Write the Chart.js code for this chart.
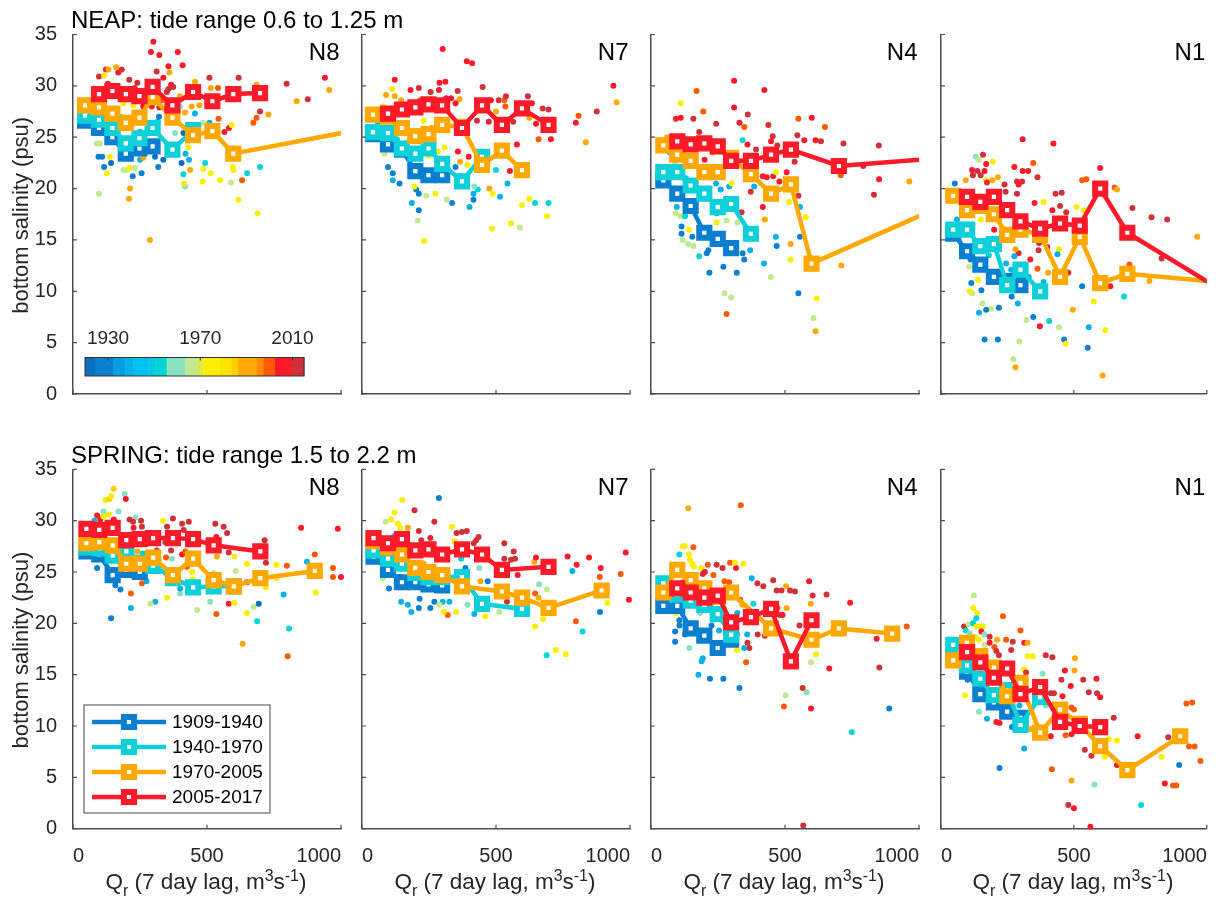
<!DOCTYPE html>
<html>
<head>
<meta charset="utf-8">
<script src="https://cdn.jsdelivr.net/npm/chart.js@4.4.1/dist/chart.umd.min.js"></script>
<style>
  html, body { margin: 0; padding: 0; background: #fff; }
  #fig { position: relative; width: 1220px; height: 902px; overflow: hidden; }
  #fig canvas { position: absolute; left: 0; }
</style>
</head>
<body>
<div id="fig"></div>
<script>
// salinity vs river flow, neap (top) and spring (bottom) tides, four stations

const stations = ['N8', 'N7', 'N4', 'N1'];
const rowTitles = ['NEAP: tide range 0.6 to 1.25 m', 'SPRING: tide range 1.5 to 2.2 m'];
const qTicks = [0, 500, 1000];
const sMin = 0, sMax = 35, sStep = 5;

const periodLabels = ['1909-1940', '1940-1970', '1970-2005', '2005-2017'];
const periodColors = ['#0a7fcf', '#0ed0d8', '#ffa800', '#ff1a2a'];

// colour scale of the sample year
const cbarYears = [1920, 1924.3, 1932.3, 1937.4, 1941, 1947.5, 1950.4, 1955.4, 1963.4, 1968.4, 1971.3, 1978.6, 1983.6, 1986.5, 1994.5, 1997.4, 2002.4, 2009.6, 2015];
const cbarColors = ['#0b6fbb', '#0a80d0', '#08a0e0', '#08b0ea', '#00c0f2', '#0ac8e4', '#00d4d4', '#88e2c2', '#c2e890', '#dae858', '#fcee00', '#ffe000', '#ffcf00', '#ffa800', '#ff8c00', '#ff5a00', '#ff1a2a', '#d03038'];
const cbarTicks = [1930, 1970, 2010];

// binned means [Q, S] per period: 1909-1940, 1940-1970, 1970-2005, 2005-2017
const meanNeapN8 = [
  [[45,26.6],[97,25.9],[147,25.0],[197,23.4],[248,23.9],[297,24.1]],
  [[45,27.1],[97,26.7],[147,25.9],[197,24.4],[248,24.9],[297,25.9],[371,23.8],[448,25.7]],
  [[45,28.1],[97,27.9],[147,27.3],[197,26.4],[248,26.9],[297,28.9],[371,26.9],[448,25.2],[520,25.6],[598,23.4],[1100,25.9]],
  [[97,29.2],[147,29.5],[197,29.2],[248,29.0],[297,29.9],[371,28.1],[448,29.4],[520,28.5],[598,29.2],[698,29.3]]
];
const meanNeapN7 = [
  [[41,25.3],[97,24.3],[149,23.8],[199,21.7],[248,21.3],[299,21.3]],
  [[41,25.5],[97,25.4],[149,23.9],[199,23.4],[248,23.9],[299,22.4],[373,20.7],[448,23.1]],
  [[41,27.2],[97,27.0],[149,25.9],[199,25.1],[248,25.3],[299,26.2],[373,26.0],[448,22.3],[522,23.7],[597,21.8]],
  [[97,27.3],[149,27.7],[199,27.9],[248,28.2],[299,28.1],[373,25.9],[448,28.1],[522,26.2],[597,27.8],[696,26.2]]
];
const meanNeapN4 = [
  [[46,20.8],[98,19.5],[148,18.3],[199,15.7],[249,15.1],[299,14.2]],
  [[46,21.6],[98,21.6],[148,20.3],[199,19.5],[249,18.2],[299,18.5],[373,15.6]],
  [[46,24.2],[98,23.3],[148,22.7],[199,21.6],[249,21.6],[299,23.0],[373,21.4],[448,19.5],[522,20.4],[599,12.7],[1100,18.45]],
  [[98,24.6],[148,24.3],[199,24.4],[249,24.1],[299,22.7],[373,22.7],[448,23.3],[522,23.8],[701,22.2],[1100,23.0]]
];
const meanNeapN1 = [
  [[46,15.6],[98,13.9],[148,12.6],[199,11.4],[249,11.0],[299,10.6]],
  [[46,16.0],[98,16.0],[148,14.4],[199,14.6],[249,10.6],[299,12.1],[373,10.0]],
  [[46,19.3],[98,17.9],[148,18.3],[199,17.5],[249,15.5],[299,16.0],[373,15.5],[448,11.4],[522,15.3],[599,10.8],[701,11.7],[1150,10.65]],
  [[98,19.2],[148,18.7],[199,19.2],[249,17.9],[299,16.8],[373,16.1],[448,16.6],[522,16.4],[599,20.0],[701,15.7],[1150,8.6]]
];
const meanSpringN8 = [
  [[50,27.0],[98,26.7],[148,24.7],[199,25.2],[249,25.0]],
  [[50,27.4],[98,27.3],[148,26.6],[199,27.0],[249,25.9],[299,25.6],[373,24.4],[448,23.5],[525,23.6],[600,23.6]],
  [[50,27.8],[98,27.9],[148,27.6],[199,25.8],[249,25.8],[299,26.4],[373,24.7],[448,26.3],[525,24.2],[600,23.6],[699,24.4],[902,25.1]],
  [[50,29.2],[98,29.1],[148,29.3],[199,28.1],[249,28.2],[299,28.3],[373,28.3],[448,28.2],[525,27.6],[699,27.0]]
];
const meanSpringN7 = [
  [[43,26.5],[97,25.2],[149,24.0],[199,24.0],[248,23.8],[299,23.7]],
  [[43,27.1],[97,26.3],[149,25.8],[199,24.9],[248,24.5],[299,24.5],[373,24.5],[448,21.9],[597,21.4]],
  [[43,28.0],[97,27.4],[149,26.7],[199,25.4],[248,25.0],[299,24.7],[373,23.6],[522,23.1],[597,22.5],[696,21.5],[894,23.2]],
  [[43,28.3],[97,27.8],[149,28.2],[199,27.1],[248,27.2],[299,26.7],[373,27.2],[448,26.7],[522,25.2],[696,25.5]]
];
const meanSpringN4 = [
  [[46,21.7],[98,21.7],[148,19.5],[199,18.8],[249,17.6],[299,18.4]],
  [[46,23.9],[98,22.8],[148,22.2],[199,21.8],[249,20.9],[299,18.9]],
  [[46,23.0],[98,25.2],[148,24.2],[199,23.4],[249,22.6],[299,23.0],[448,19.5],[599,18.4],[701,19.5],[900,19.0]],
  [[98,23.4],[148,23.0],[199,22.5],[249,22.7],[299,20.1],[373,20.6],[448,21.4],[522,16.3],[599,20.3]]
];
const meanSpringN1 = [
  [[46,16.6],[98,15.3],[148,13.1],[199,12.3],[249,11.4],[299,10.8]],
  [[46,17.9],[98,15.9],[148,14.6],[199,13.0],[249,13.5],[299,10.1],[373,12.8]],
  [[46,16.4],[98,18.1],[148,16.8],[199,15.7],[249,12.9],[299,14.2],[373,9.35],[448,11.6],[522,10.2],[599,8.05],[701,5.7],[900,9.0]],
  [[98,17.2],[148,16.2],[199,14.7],[249,15.6],[299,13.1],[373,13.8],[448,10.4],[522,10.0],[599,9.9]]
];

// individual samples [Q, S, year]
const dotsNeapN8 = [
  [300,34.3,2006],[291,33.3,2006],[322,33.0,2006],[391,33.3,2006],[409,32.0,2006],[356,31.9,2006],[312,31.4,2013],[169,31.3,2006],[182,31.6,2013],[123,31.6,2006],
  [161,31.8,1990],[97,30.9,2013],[210,30.6,2013],[240,30.3,2013],[337,30.8,2006],[360,31.3,1990],[366,30.1,2006],[455,30.4,1990],[509,30.8,2013],[618,30.8,2013],
  [685,30.1,1990],[514,29.8,1990],[541,29.8,2000],[797,30.2,2013],[940,30.8,2006],[956,29.6,1990],[835,28.5,1990],[876,28.7,2013],[673,26.4,2000],[685,26.9,2000],
  [698,27.5,2013],[729,27.2,1990],[582,25.9,2006],[565,25.5,2006],[543,26.8,2000],[471,28.1,1990],[443,28.0,1990],[455,27.3,1939],[418,27.4,1990],[399,28.0,1960],
  [485,26.4,1966],[509,26.4,1939],[592,26.2,1975],[430,26.2,1953],[412,25.4,1922],[381,25.4,1960],[430,24.0,1975],[420,23.4,1939],[433,22.8,1939],[405,22.5,1922],
  [337,22.8,1922],[318,22.1,1930],[412,21.4,1953],[437,21.8,1990],[418,20.2,1960],[415,20.5,1975],[493,22.5,1953],[486,21.9,1975],[484,20.7,1975],[514,21.5,1975],
  [549,20.8,1975],[589,20.6,1966],[596,22.1,1975],[598,21.8,1975],[631,20.8,2000],[650,21.5,1953],[698,22.1,1953],[617,18.9,1975],[689,17.6,1975],[287,15.0,1990],
  [213,20.0,1990],[209,19.0,1990],[97,19.5,1966],[95,23.1,1930],[109,23.1,1930],[142,22.5,1922],[116,22.1,1930],[126,21.5,1975],[88,24.4,1966],[100,24.4,1966],
  [138,23.1,1975],[188,21.8,1966],[200,21.8,1966],[210,22.0,1975],[223,21.2,1930],[231,22.0,1966],[256,21.5,1930],[250,22.8,1939],[262,23.0,1990],[215,23.1,1953],
  [306,23.1,1922],[316,26.5,1939],[321,27.0,1930],[132,31.6,1990],[116,31.0,1975],[107,28.6,1990],[138,29.0,1990],[188,28.3,1975],[225,28.1,1975],[262,28.0,2006],
  [294,28.0,2006],[322,27.9,2013],[331,28.6,2000],[350,29.4,2006],[356,29.7,2013],[312,30.3,1990],[374,29.9,2013],[399,29.0,1990],[70,27.5,1922],[75,28.5,1975],
  [130,30.2,2006],[160,30.0,1990],[230,29.8,2006],[270,29.5,2013],[180,27.0,1960],[120,26.0,1939],[160,24.5,1953],[250,25.5,1939]
];
const dotsNeapN7 = [
  [301,33.6,2006],[391,32.4,2006],[411,32.2,2006],[122,30.6,2006],[289,30.3,2006],[311,30.4,2006],[212,29.8,2013],[256,29.4,2013],[287,29.6,2006],[357,29.5,2013],
  [450,29.9,2013],[181,29.6,2006],[113,29.7,1975],[90,29.1,1990],[122,29.0,1990],[146,28.6,1990],[217,28.6,2000],[314,28.8,2013],[332,28.8,2006],[364,28.7,1990],
  [349,28.3,2006],[481,28.6,2006],[510,28.6,2013],[531,28.6,2000],[537,29.0,2013],[500,27.5,1990],[535,28.0,2000],[619,29.0,2013],[634,28.3,2006],[674,27.8,2013],
  [696,27.7,2013],[624,26.9,1990],[649,26.3,2006],[705,24.8,2006],[659,24.8,2000],[564,26.5,2013],[473,26.5,2006],[429,26.6,2013],[578,24.3,2006],[552,21.7,2006],
  [500,21.8,1953],[543,20.5,1939],[515,19.2,1939],[488,19.5,1975],[475,20.0,1990],[432,19.9,1953],[416,19.5,1939],[416,18.9,1930],[401,18.2,1939],[419,20.2,1960],
  [336,18.6,1930],[316,18.9,1966],[274,19.5,1975],[239,19.3,1966],[212,19.5,1930],[202,19.9,1930],[186,18.6,1939],[212,17.9,1930],[208,16.9,1966],[231,14.9,1975],
  [140,20.5,1930],[115,20.8,1939],[115,21.5,1930],[97,22.1,1930],[84,23.4,1966],[196,20.2,1975],[308,24.0,1975],[283,23.6,1975],[249,23.2,1975],[349,22.1,1930],
  [366,22.6,1990],[394,22.3,1975],[358,23.6,2006],[398,23.1,2006],[696,18.6,1953],[646,18.6,1953],[597,18.4,1975],[624,19.0,1975],[690,17.3,1975],[485,16.1,1975],
  [556,16.6,1975],[589,16.2,1966],[798,26.4,2006],[808,27.1,2000],[835,24.5,1990],[876,27.5,2013],[938,30.0,2006],[950,28.4,1990],[80,28.0,1975],[60,26.3,1939],
  [130,24.8,1953],[170,24.6,1966],[230,26.6,1975],[260,25.9,1990]
];
const dotsNeapN4 = [
  [310,30.5,2006],[423,29.6,2006],[170,29.5,2000],[111,28.3,1975],[195,27.5,2000],[310,27.9,2006],[330,26.4,2006],[361,27.2,2013],[348,26.0,2000],[93,26.8,2006],
  [111,26.9,2006],[158,26.8,2013],[243,26.3,2013],[438,26.2,2013],[550,26.8,2000],[600,26.9,2006],[649,26.0,2000],[546,25.2,2013],[572,24.7,2006],[614,24.7,2006],
  [634,24.6,2013],[718,24.4,2013],[850,24.2,2013],[454,25.1,2013],[448,24.6,2006],[392,23.8,2013],[360,24.3,2006],[342,24.7,1953],[471,24.2,2013],[506,21.6,2006],
  [536,22.6,2013],[456,21.2,2013],[479,20.7,2006],[417,21.2,2006],[432,21.1,2006],[417,18.2,2006],[372,19.7,2013],[466,21.6,1975],[515,18.7,1975],[550,19.3,2013],
  [556,18.2,1939],[578,17.2,1975],[556,15.3,1930],[521,14.6,1990],[521,13.1,1975],[466,15.3,1939],[469,14.4,1930],[425,17.0,1990],[422,12.7,1939],[447,11.4,1966],
  [385,20.2,1939],[338,17.7,2013],[370,14.0,1939],[348,13.1,1930],[342,13.7,1930],[320,11.8,1930],[270,12.4,1930],[218,11.8,1930],[208,13.7,1930],[214,14.0,1930],
  [180,13.4,1953],[158,14.4,1966],[139,14.6,1966],[118,15.0,1966],[114,15.6,1930],[114,16.3,1930],[154,15.3,1930],[142,16.0,1975],[93,17.6,1966],[111,17.3,1966],
  [127,17.3,1953],[96,18.2,1939],[282,16.9,1966],[323,16.7,1966],[245,16.7,1975],[245,17.6,1939],[243,20.5,1939],[260,19.9,1939],[292,20.2,1939],[301,20.5,1975],
  [274,9.8,1966],[299,9.4,1966],[282,7.8,2000],[550,9.8,1930],[618,9.3,1975],[606,7.4,1966],[614,6.1,1990],[710,12.5,1990],[832,19.4,2013],[851,20.9,2006],
  [964,20.7,1990],[708,21.3,2000],[792,22.2,2013],[70,23.5,1939],[90,22.5,1966],[130,21.0,1953],[160,20.5,1975],[200,22.8,2006],[230,23.5,1990],[180,25.5,2013],
  [60,25.0,1990]
];
const dotsNeapN1 = [
  [307,24.8,2006],[423,24.4,2006],[158,23.3,2013],[131,23.1,1960],[143,22.8,1966],[195,22.6,1975],[170,22.4,2006],[276,22.1,2006],[347,22.5,2000],[117,21.8,2006],
  [137,21.7,2013],[164,21.7,2006],[149,21.3,2013],[120,21.3,2013],[307,21.7,2006],[328,21.7,2006],[363,21.1,2013],[214,21.1,1990],[193,20.8,1990],[170,20.8,1975],
  [93,20.8,1990],[52,20.5,1930],[173,20.6,2013],[239,20.4,2013],[286,20.7,2013],[305,20.7,2013],[292,20.4,2006],[286,19.5,2013],[243,19.7,2013],[531,20.8,2000],
  [547,20.9,2000],[599,22.0,2006],[653,20.1,2000],[662,19.9,1990],[431,19.5,2013],[454,19.6,2013],[386,18.7,1975],[352,18.6,2006],[448,18.3,2013],[419,17.9,2006],
  [471,17.7,2013],[510,18.2,1975],[537,17.9,1975],[720,18.1,2013],[792,17.2,2013],[851,17.0,2013],[964,15.3,1990],[830,13.2,2013],[709,12.6,2000],[637,10.5,2006],
  [784,11.0,1990],[479,11.8,2013],[444,14.1,1975],[400,14.3,2006],[367,14.0,2013],[369,14.7,2013],[336,13.1,2006],[292,13.7,2013],[280,14.1,1990],[276,13.4,1939],
  [245,12.7,1939],[264,12.1,1939],[266,9.5,1930],[289,8.8,1939],[218,8.4,1930],[187,8.3,1966],[170,8.2,1930],[143,7.9,1939],[156,8.8,1966],[118,9.8,1966],
  [108,10.0,1975],[114,10.8,1930],[106,12.4,1966],[139,11.1,1975],[152,10.1,1930],[111,13.1,1930],[164,5.3,1930],[214,5.3,1930],[295,5.1,1966],[272,3.4,1966],
  [280,2.6,1990],[322,7.2,1966],[347,7.5,1930],[372,6.6,2006],[407,7.1,1953],[444,6.5,1966],[463,5.3,1930],[469,4.9,1975],[496,8.2,1990],[531,10.5,1930],
  [556,6.5,1939],[552,4.5,1930],[575,9.0,1975],[618,6.2,1975],[608,1.8,1990],[689,9.5,1953],[438,13.6,1939],[386,10.9,1939],[330,11.4,1939],[403,11.8,1990],
  [363,12.2,2000],[60,17.0,1939],[80,18.5,1990],[120,16.5,1966],[150,17.0,1975],[200,16.0,2006],[180,13.5,1953]
];
const dotsSpringN8 = [
  [152,33.1,1985],[121,32.0,1975],[136,32.1,1985],[143,32.4,1975],[133,30.6,1975],[114,30.9,1960],[170,30.9,1960],[193,32.6,1960],[197,32.1,2006],[90,30.5,2006],
  [102,30.1,2006],[114,30.4,1975],[152,30.1,2006],[233,30.3,1960],[211,30.1,2013],[224,29.9,2013],[254,30.0,2013],[226,29.3,2006],[257,29.4,2013],[239,28.6,2000],
  [336,30.0,1975],[373,30.2,2013],[351,29.4,2013],[407,29.7,2013],[432,29.9,2013],[413,29.1,2013],[388,28.6,2013],[345,27.9,2013],[366,27.1,2013],[347,26.4,2000],
  [313,27.1,2013],[313,27.8,2006],[369,26.3,1960],[407,26.7,2006],[419,27.0,2000],[425,25.5,2000],[444,25.0,1975],[456,23.7,2013],[446,24.3,1975],[531,29.7,2013],
  [562,29.4,2013],[575,28.8,2013],[535,28.4,2006],[537,26.5,1990],[525,24.9,1966],[581,26.9,2013],[602,26.5,1975],[607,25.1,1966],[581,21.9,2006],[602,22.0,1975],
  [535,20.9,2000],[512,22.1,1960],[463,21.3,1966],[400,22.9,1960],[400,23.4,1939],[351,22.5,1975],[307,22.1,1939],[289,21.9,1966],[216,21.5,1939],[216,22.9,2000],
  [142,20.5,1930],[177,23.3,1930],[158,23.7,1930],[90,25.4,1930],[257,23.9,2000],[274,24.1,1939],[649,24.0,2013],[649,25.8,1975],[680,24.0,2013],[715,28.1,2013],
  [720,25.9,2013],[720,23.5,1975],[674,21.6,1966],[649,21.0,1975],[693,21.9,1922],[687,20.2,1953],[633,18.0,1990],[759,25.7,1975],[798,25.6,2000],[759,24.4,1975],
  [786,22.8,1939],[806,19.5,1953],[801,16.8,2000],[851,29.3,2006],[873,26.0,1939],[902,26.7,2000],[906,23.0,1975],[970,25.4,2000],[970,24.5,2000],[988,29.2,2006],
  [1000,24.5,2006],[60,28.5,1922],[80,30.0,1939],[130,28.0,1953],[170,27.5,1966],[200,26.5,1975],[240,27.0,1990],[180,25.0,1930],[260,26.8,1953]
];
const dotsSpringN7 = [
  [287,32.2,1930],[150,32.0,1975],[122,30.8,1975],[109,30.1,1975],[88,29.9,1966],[134,29.7,1975],[196,31.0,2013],[270,29.9,2013],[143,29.3,1975],[171,29.3,1990],
  [212,29.0,2013],[221,28.1,2013],[255,28.3,2013],[336,29.4,1975],[353,28.8,2013],[373,28.9,2013],[391,29.0,2013],[435,28.4,2013],[426,28.1,2013],[417,27.8,2013],
  [345,28.0,1975],[386,25.4,1930],[438,25.4,1960],[370,26.3,1953],[469,24.1,1930],[442,24.1,1990],[531,27.8,2013],[566,27.0,2013],[531,26.3,2013],[556,26.2,2013],
  [571,26.3,2013],[581,24.7,2006],[541,22.1,2013],[506,23.1,1966],[512,21.1,1966],[460,21.9,1960],[419,20.9,1939],[394,21.8,1960],[460,20.7,1975],[351,21.1,1975],
  [320,20.8,2000],[305,21.1,1975],[326,22.1,1939],[301,22.1,1939],[270,22.1,1930],[255,21.5,1930],[212,21.5,1930],[184,21.1,1939],[171,21.8,1939],[146,22.1,1939],
  [215,22.4,1930],[289,21.8,1966],[78,24.4,1966],[101,23.4,1930],[643,26.0,1990],[649,26.4,2006],[646,22.9,2000],[659,22.5,1990],[661,23.8,1960],[690,23.3,1966],
  [676,20.4,1975],[646,19.7,1975],[689,16.9,1953],[723,17.4,1975],[760,17.0,1975],[767,26.5,2006],[801,25.7,2006],[785,25.1,1939],[847,26.4,2006],[798,20.2,2000],
  [823,19.2,1953],[891,25.4,2006],[887,24.5,2000],[888,21.1,1930],[916,22.0,1975],[965,24.8,2000],[984,26.9,2006],[996,22.3,2006],[60,28.8,1939],[90,27.0,1922],
  [120,28.5,1953],[170,26.5,1966],[230,25.8,1990],[110,25.0,1930],[140,24.5,1922]
];
const dotsSpringN4 = [
  [139,31.2,1990],[335,31.5,2000],[118,27.5,1975],[126,27.5,1975],[158,27.4,2000],[142,26.7,1975],[145,26.2,1975],[154,25.8,1975],[106,26.7,1953],[187,25.4,1975],
  [160,25.5,1975],[212,25.7,2000],[245,25.7,2013],[267,25.4,2013],[317,25.4,2006],[295,25.9,2000],[313,25.9,1975],[345,25.8,1975],[233,24.7,2000],[193,24.8,2013],
  [201,25.0,2006],[274,24.1,2000],[292,24.0,2000],[376,24.4,1939],[397,23.9,2013],[419,23.6,2013],[456,24.2,2013],[469,23.2,2013],[487,23.2,2013],[504,23.6,1990],
  [519,23.2,2013],[537,23.1,2013],[590,24.1,2006],[603,22.7,2013],[596,21.9,1990],[655,22.8,2013],[743,22.0,2006],[382,21.9,1953],[341,21.8,1990],[332,22.3,2013],
  [322,21.0,1939],[472,21.5,2000],[481,20.8,2013],[491,20.8,2006],[506,21.5,1990],[554,19.8,2013],[398,18.9,2013],[425,18.8,2013],[360,18.1,2013],[367,17.6,2013],
  [348,17.6,1939],[320,17.4,1975],[355,16.2,2000],[616,17.0,1975],[597,16.2,1966],[665,15.6,2006],[852,15.7,2013],[842,18.5,2006],[954,19.7,2000],[566,13.7,2013],
  [581,13.3,1960],[502,13.0,1966],[496,11.9,2000],[597,11.7,2006],[749,9.4,1953],[889,11.7,1930],[568,0.3,2013],[330,13.7,1930],[270,14.6,1930],[220,14.6,1930],
  [177,15.0,1939],[189,16.3,1939],[193,16.6,1939],[143,17.6,1960],[127,18.9,1930],[90,18.2,1930],[90,19.2,1930],[106,19.8,1930],[226,19.8,1930],[254,19.3,1939],
  [320,18.9,1930],[359,18.9,1939],[106,20.3,1930],[183,21.0,1960],[93,21.0,1975],[60,22.5,1939],[150,23.5,1966],[230,22.0,1990],[270,21.5,2006],[120,24.0,2013]
];
const dotsSpringN1 = [
  [124,22.7,1966],[121,21.5,1975],[136,21.0,1975],[133,20.5,1953],[233,20.7,2000],[87,19.7,2013],[104,19.9,1966],[121,20.0,1953],[133,19.7,1975],[146,19.7,1975],
  [158,19.7,1975],[93,19.3,1953],[108,19.0,1960],[152,19.2,2006],[164,18.9,1960],[183,18.7,2013],[143,18.4,1975],[127,18.7,1975],[164,17.9,1966],[201,17.7,2000],
  [211,18.4,1990],[245,18.4,2000],[270,18.2,2013],[264,17.4,2013],[299,19.3,2000],[313,18.1,2006],[326,18.1,1990],[183,18.1,2006],[208,17.3,2013],[218,16.9,2013],
  [326,16.8,1975],[345,16.8,1975],[313,15.5,1975],[320,15.2,2013],[394,16.9,2013],[419,16.7,2013],[504,16.6,1990],[502,15.4,1990],[466,15.4,2006],[453,14.5,2013],
  [488,13.9,2006],[535,14.5,2013],[585,14.6,2006],[556,13.3,2013],[587,13.2,2013],[599,12.8,2006],[425,13.2,2013],[413,13.2,2013],[457,12.9,2006],[382,15.1,1960],
  [394,12.0,1960],[435,12.0,2013],[491,11.8,2000],[500,11.6,2000],[463,10.3,2013],[469,9.1,2000],[413,9.0,2006],[491,9.2,2006],[541,7.7,2013],[566,7.1,2013],
  [650,10.8,2013],[631,8.7,1975],[662,8.6,1975],[616,7.0,1975],[662,6.2,2006],[740,9.0,2006],[830,7.0,1975],[855,8.9,2013],[896,6.2,1930],[842,4.4,2006],
  [873,4.2,2000],[885,4.2,2000],[923,12.2,2000],[945,12.3,2000],[933,8.0,2000],[954,8.0,2000],[976,6.6,2000],[577,4.3,1960],[491,4.7,1990],[479,2.3,2013],
  [500,2.0,2006],[562,0.2,2006],[417,5.8,2000],[753,2.3,1953],[220,5.9,1930],[313,7.8,1939],[208,10.4,2006],[220,10.3,2006],[143,11.4,1960],[173,10.7,1939],
  [90,13.0,1975],[243,11.2,1939],[267,9.9,1930],[295,12.0,1939],[335,9.7,1990],[60,16.0,1939],[100,14.5,1930],[150,13.0,1953],[200,12.5,1922],[250,14.0,1966]
];

const FONT = "'Liberation Sans', Arial, Helvetica, sans-serif";
const axisColor = '#4d4d4d';
const textColor = '#262626';
const markerRadius = 7.2;
const markerBorder = 6;
const lineWidth = 4.5;

function yearColor(yr) {
  for (let k = 0; k < cbarColors.length; k++) {
    if (yr < cbarYears[k + 1]) return cbarColors[k];
  }
  return cbarColors[cbarColors.length - 1];
}

// text pieces [string, size, baseline shift], centred on cx
function drawParts(ctx, parts, cx, y) {
  let w = 0;
  parts.forEach(p => { ctx.font = p[1] + 'px ' + FONT; w += ctx.measureText(p[0]).width; });
  let x = cx - w / 2;
  ctx.textAlign = 'left';
  parts.forEach(p => {
    ctx.font = p[1] + 'px ' + FONT;
    ctx.fillText(p[0], x, y + p[2]);
    x += ctx.measureText(p[0]).width;
  });
}

function drawSquare(ctx, x, y, color) {
  const s = markerRadius * Math.SQRT1_2;
  ctx.beginPath();
  ctx.rect(x - s, y - s, 2 * s, 2 * s);
  ctx.fillStyle = '#fff';
  ctx.fill();
  ctx.lineWidth = markerBorder;
  ctx.strokeStyle = color;
  ctx.stroke();
}

const panelDecor = {
  id: 'panelDecor',
  afterDraw(chart, args, opts) {
    const ctx = chart.ctx, a = chart.chartArea;
    const xs = chart.scales.x, ys = chart.scales.y;
    ctx.save();

    // inward tick marks
    ctx.strokeStyle = axisColor;
    ctx.lineWidth = 1.2;
    ctx.beginPath();
    xs.ticks.forEach(t => {
      const px = xs.getPixelForValue(t.value);
      ctx.moveTo(px, a.bottom); ctx.lineTo(px, a.bottom - 4);
    });
    ys.ticks.forEach(t => {
      const py = ys.getPixelForValue(t.value);
      ctx.moveTo(a.left, py); ctx.lineTo(a.left + 4, py);
    });
    ctx.stroke();

    // station name
    ctx.fillStyle = '#000';
    ctx.font = '24px ' + FONT;
    ctx.textAlign = 'right';
    ctx.textBaseline = 'alphabetic';
    ctx.fillText(opts.station, a.right - 1.5, a.top + 25.6);

    if (opts.title) {
      ctx.textAlign = 'left';
      ctx.fillText(opts.title, a.left - 2, a.top - 6.2);
    }

    if (opts.ylabel) {
      ctx.save();
      ctx.fillStyle = textColor;
      ctx.font = '22px ' + FONT;
      ctx.textAlign = 'center';
      ctx.translate(a.left - 45.5, (a.top + a.bottom) / 2 + 1);
      ctx.rotate(-Math.PI / 2);
      ctx.fillText('bottom salinity (psu)', 0, 0);
      ctx.restore();
    }

    if (opts.xlabel) {
      ctx.fillStyle = textColor;
      drawParts(ctx, [['Q', 22.5, 0], ['r', 16, 7], [' (7 day lag, m', 22.5, 0], ['3', 16, -7.5], ['s', 22.5, 0], ['-1', 16, -7.5], [')', 22.5, 0]],
        (a.left + a.right) / 2 - 1, a.bottom + 60);
    }

    if (opts.colorbar) {
      const x0 = a.left + 12, x1 = a.left + 231, y0 = a.top + 323, y1 = a.top + 341.5;
      const span = cbarYears[cbarYears.length - 1] - cbarYears[0];
      const yrX = yr => x0 + (yr - cbarYears[0]) / span * (x1 - x0);
      cbarColors.forEach((c, k) => {
        const xa = yrX(cbarYears[k]), xb = yrX(cbarYears[k + 1]);
        ctx.fillStyle = c;
        ctx.fillRect(xa, y0, xb - xa + 0.5, y1 - y0);
      });
      ctx.strokeStyle = '#333';
      ctx.lineWidth = 1;
      ctx.strokeRect(x0, y0, x1 - x0, y1 - y0);
      ctx.beginPath();
      cbarTicks.forEach(yr => { ctx.moveTo(yrX(yr), y0); ctx.lineTo(yrX(yr), y0 + 3); });
      ctx.stroke();
      ctx.fillStyle = textColor;
      ctx.font = '19px ' + FONT;
      ctx.textAlign = 'center';
      cbarTicks.forEach(yr => ctx.fillText(String(yr), yrX(yr), y0 - 13.5));
    }

    if (opts.legend) {
      const bx = a.left + 11, by = a.top + 235.7, bw = 186, bh = 108;
      ctx.fillStyle = '#fff';
      ctx.fillRect(bx, by, bw, bh);
      ctx.strokeStyle = '#444';
      ctx.lineWidth = 1;
      ctx.strokeRect(bx, by, bw, bh);
      periodLabels.forEach((lab, k) => {
        const ry = by + 17 + k * 25;
        ctx.strokeStyle = periodColors[k];
        ctx.lineWidth = lineWidth;
        ctx.beginPath();
        ctx.moveTo(bx + 8, ry); ctx.lineTo(bx + 82, ry);
        ctx.stroke();
        drawSquare(ctx, bx + 45, ry, periodColors[k]);
        ctx.fillStyle = '#000';
        ctx.font = '19px ' + FONT;
        ctx.textAlign = 'left';
        ctx.textBaseline = 'middle';
        ctx.fillText(lab, bx + 88, ry + 1);
        ctx.textBaseline = 'alphabetic';
      });
    }
    ctx.restore();
  }
};

const panelLefts = [73, 362, 651, 941];
const panelWidth = 268;
const rows = [
  { top: 0, height: 440, padTop: 34.5, xHeight: 46, labels: false, means: [meanNeapN8, meanNeapN7, meanNeapN4, meanNeapN1], dots: [dotsNeapN8, dotsNeapN7, dotsNeapN4, dotsNeapN1] },
  { top: 440, height: 462, padTop: 29.3, xHeight: 73.3, labels: true, means: [meanSpringN8, meanSpringN7, meanSpringN4, meanSpringN1], dots: [dotsSpringN8, dotsSpringN7, dotsSpringN4, dotsSpringN1] }
];

const fig = document.getElementById('fig');

rows.forEach((row, r) => {
  stations.forEach((st, c) => {
    const canvas = document.createElement('canvas');
    canvas.width = 1220;
    canvas.height = row.height;
    canvas.style.top = row.top + 'px';
    canvas.style.width = '1220px';
    canvas.style.height = row.height + 'px';
    fig.appendChild(canvas);

    const dots = row.dots[c];
    const datasets = [{
      label: 'samples',
      data: dots.map(d => ({ x: d[0], y: d[1] })),
      showLine: false,
      pointRadius: 3,
      pointBorderWidth: 0,
      pointBackgroundColor: dots.map(d => yearColor(d[2])),
      order: 5,
      clip: 3
    }];
    row.means[c].forEach((m, k) => {
      datasets.push({
        label: periodLabels[k],
        data: m.map(p => ({ x: p[0], y: p[1] })),
        showLine: true,
        borderColor: periodColors[k],
        borderWidth: lineWidth,
        pointStyle: 'rect',
        pointRadius: markerRadius,
        pointBorderWidth: markerBorder,
        pointBorderColor: periodColors[k],
        pointBackgroundColor: '#fff',
        order: 4 - k,
        clip: 0
      });
    });

    new Chart(canvas, {
      type: 'scatter',
      data: { datasets },
      options: {
        responsive: false,
        animation: false,
        devicePixelRatio: 1,
        events: [],
        layout: { padding: { left: panelLefts[c] - 73, right: 1220 - panelLefts[c] - panelWidth, top: row.padTop, bottom: 0 } },
        scales: {
          x: {
            type: 'linear', min: qTicks[0], max: qTicks[qTicks.length - 1],
            afterBuildTicks: s => { s.ticks = qTicks.map(v => ({ value: v })); },
            afterFit: s => { s.height = row.xHeight; },
            grid: { display: false },
            border: { display: true, color: axisColor, width: 1.5 },
            ticks: { display: row.labels, align: 'inner', padding: 8, color: textColor, font: { family: FONT, size: 20 }, callback: v => String(v) }
          },
          y: {
            type: 'linear', min: sMin, max: sMax,
            ticks: { stepSize: sStep, display: c === 0, padding: 8, color: textColor, font: { family: FONT, size: 20 }, callback: v => String(v) },
            afterFit: s => { s.width = 73; },
            grid: { display: false },
            border: { display: true, color: axisColor, width: 1.5 }
          }
        },
        plugins: {
          legend: { display: false },
          tooltip: { enabled: false },
          panelDecor: {
            station: st,
            title: c === 0 ? rowTitles[r] : null,
            ylabel: c === 0,
            xlabel: row.labels,
            colorbar: r === 0 && c === 0,
            legend: r === 1 && c === 0
          }
        }
      },
      plugins: [panelDecor]
    });
  });
});
</script>
</body>
</html>
